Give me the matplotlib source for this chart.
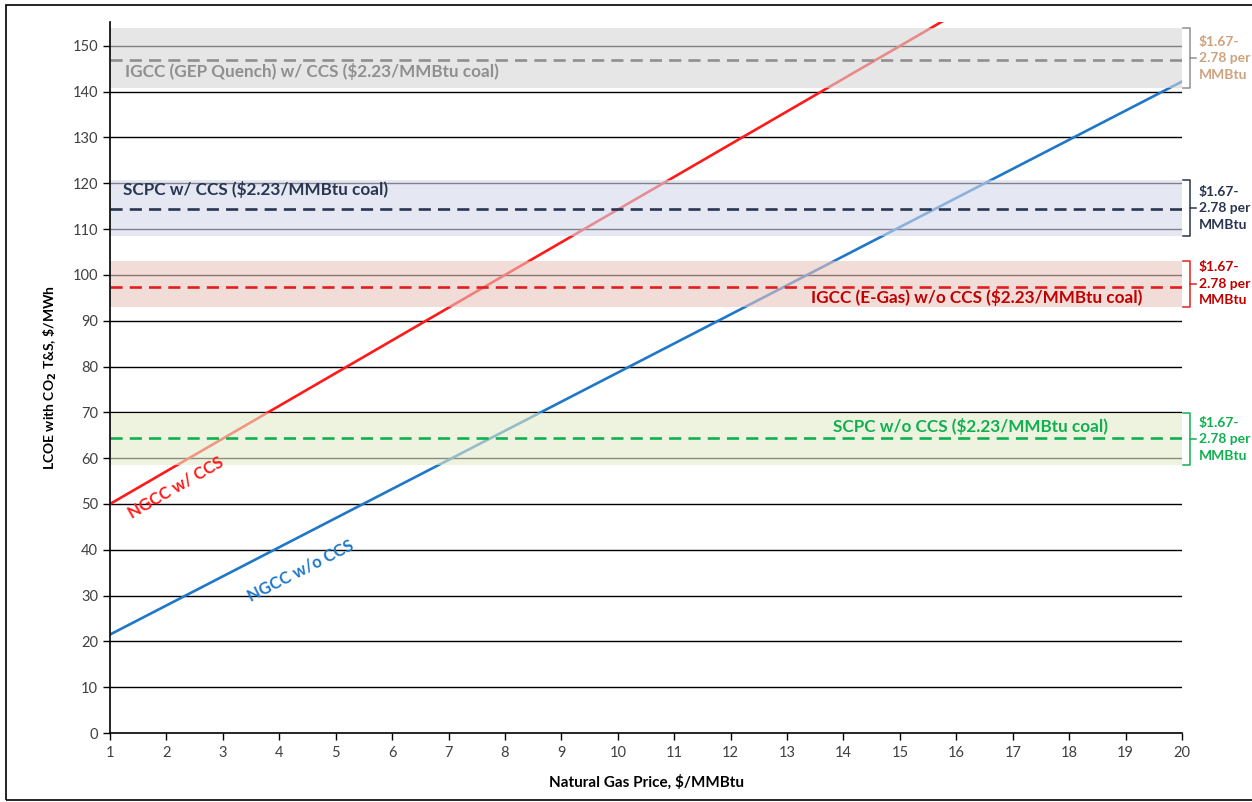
import matplotlib.pyplot as plt
from matplotlib.patches import Rectangle

plt.rcParams['font.family'] = ['Lato', 'DejaVu Sans']

# Natural gas combined cycle lines (price $/MMBtu -> LCOE $/MWh)
ngcc_ccs_price = [1, 16]
ngcc_ccs_lcoe = [50.0, 157.1]
ngcc_price = [1, 20]
ngcc_lcoe = [21.5, 142.2]

# Coal plant cases: name, LCOE at $2.23 coal, low/high range for $1.67-2.78 coal
coal_names = ["IGCC (GEP Quench) w/ CCS ($2.23/MMBtu coal)",
              "SCPC w/ CCS ($2.23/MMBtu coal)",
              "IGCC (E-Gas) w/o CCS ($2.23/MMBtu coal)",
              "SCPC w/o CCS ($2.23/MMBtu coal)"]
coal_lcoe = [147.0, 114.4, 97.4, 64.4]
coal_low = [140.8, 108.4, 93.0, 58.5]
coal_high = [153.8, 120.6, 103.1, 69.8]
range_label = "$1.67-\n2.78 per\nMMBtu"

band_colors = ['#d6d6d6', '#d5daeb', '#e9c5be', '#e4ebcb']
dash_colors = ['#8f8f8f', '#2a3550', '#e02020', '#10b050']
text_colors = ['#8f8f8f', '#2a3550', '#c00000', '#10b050']
brace_text_colors = ['#cfa27e', '#2a3550', '#c00000', '#10b050']

x_ticks = list(range(1, 21))
y_ticks = list(range(0, 151, 10))

fig = plt.figure(figsize=(12.52, 8.02), dpi=100)
ax = fig.add_axes([0.0879, 0.0860, 0.8562, 0.8866])
ax.set_xlim(1, 20)
ax.set_ylim(0, 155.2)

# horizontal gridlines
for yv in y_ticks[1:]:
    ax.axhline(yv, color='black', lw=1.0, zorder=1)

ax.plot(ngcc_ccs_price, ngcc_ccs_lcoe, color='#ff1a1a', lw=1.9, zorder=2)
ax.plot(ngcc_price, ngcc_lcoe, color='#1f77c8', lw=1.9, zorder=2)

# coal ranges as translucent bands laid over the gas lines
for i in range(len(coal_names)):
    ax.axhspan(coal_low[i], coal_high[i], color=band_colors[i], alpha=0.6,
               lw=0, zorder=3)
    ax.axhline(coal_lcoe[i], color=dash_colors[i], lw=1.9,
               linestyle=(0, (4.6, 2.7)), zorder=4)

    # brace and price-range note to the right of the plot
    x0, x1, xm = 20.02, 20.14, 20.24
    ymid = (coal_low[i] + coal_high[i]) / 2
    ax.plot([x0, x1, x1, x0], [coal_high[i], coal_high[i], coal_low[i], coal_low[i]],
            color=dash_colors[i], lw=1.1, clip_on=False, zorder=5)
    ax.plot([x1, xm], [ymid, ymid], color=dash_colors[i], lw=1.1,
            clip_on=False, zorder=5)
    ax.text(20.3, ymid, range_label, color=brace_text_colors[i],
            fontsize=10, fontweight='bold', va='center', ha='left',
            linespacing=1.45, clip_on=False)

ax.text(1.27, 144.3, coal_names[0], color=text_colors[0], fontsize=12.3,
        fontweight='bold', va='center', ha='left', zorder=6)
ax.text(1.23, 118.6, coal_names[1], color=text_colors[1], fontsize=12.3,
        fontweight='bold', va='center', ha='left', zorder=6)
ax.text(19.29, 95.0, coal_names[2], color=text_colors[2], fontsize=12.3,
        fontweight='bold', va='center', ha='right', zorder=6)
ax.text(18.69, 67.0, coal_names[3], color=text_colors[3], fontsize=12.3,
        fontweight='bold', va='center', ha='right', zorder=6)

ax.text(2.17, 53.6, "NGCC w/ CCS", color='#ff1a1a', fontsize=12,
        fontweight='bold', rotation=30, va='center', ha='center', zorder=6)
ax.text(4.37, 35.4, "NGCC w/o CCS", color='#1f77c8', fontsize=12,
        fontweight='bold', rotation=27, va='center', ha='center', zorder=6)

ax.set_xticks(x_ticks)
ax.set_yticks(y_ticks)
ax.tick_params(axis='both', direction='out', length=5, width=1,
               colors='black', labelcolor='#404040', labelsize=10.5)
ax.tick_params(axis='x', pad=4)
for s in ['top', 'right']:
    ax.spines[s].set_visible(False)
for s in ['left', 'bottom']:
    ax.spines[s].set_linewidth(1.2)
    ax.spines[s].set_zorder(7)

ax.set_xlabel("Natural Gas Price, $/MMBtu", fontsize=11, fontweight='bold',
              labelpad=11)
ax.set_ylabel(r"LCOE with CO$_\mathbf{2}$ T&S, \$/MWh", fontsize=10,
              fontweight='bold', labelpad=10)

# outer frame
fig.patches.append(Rectangle((0.0045, 0.003), 1.2, 0.9908, transform=fig.transFigure,
                             fill=False, edgecolor='black', lw=1.2))

fig.savefig('out.png', dpi=100)
